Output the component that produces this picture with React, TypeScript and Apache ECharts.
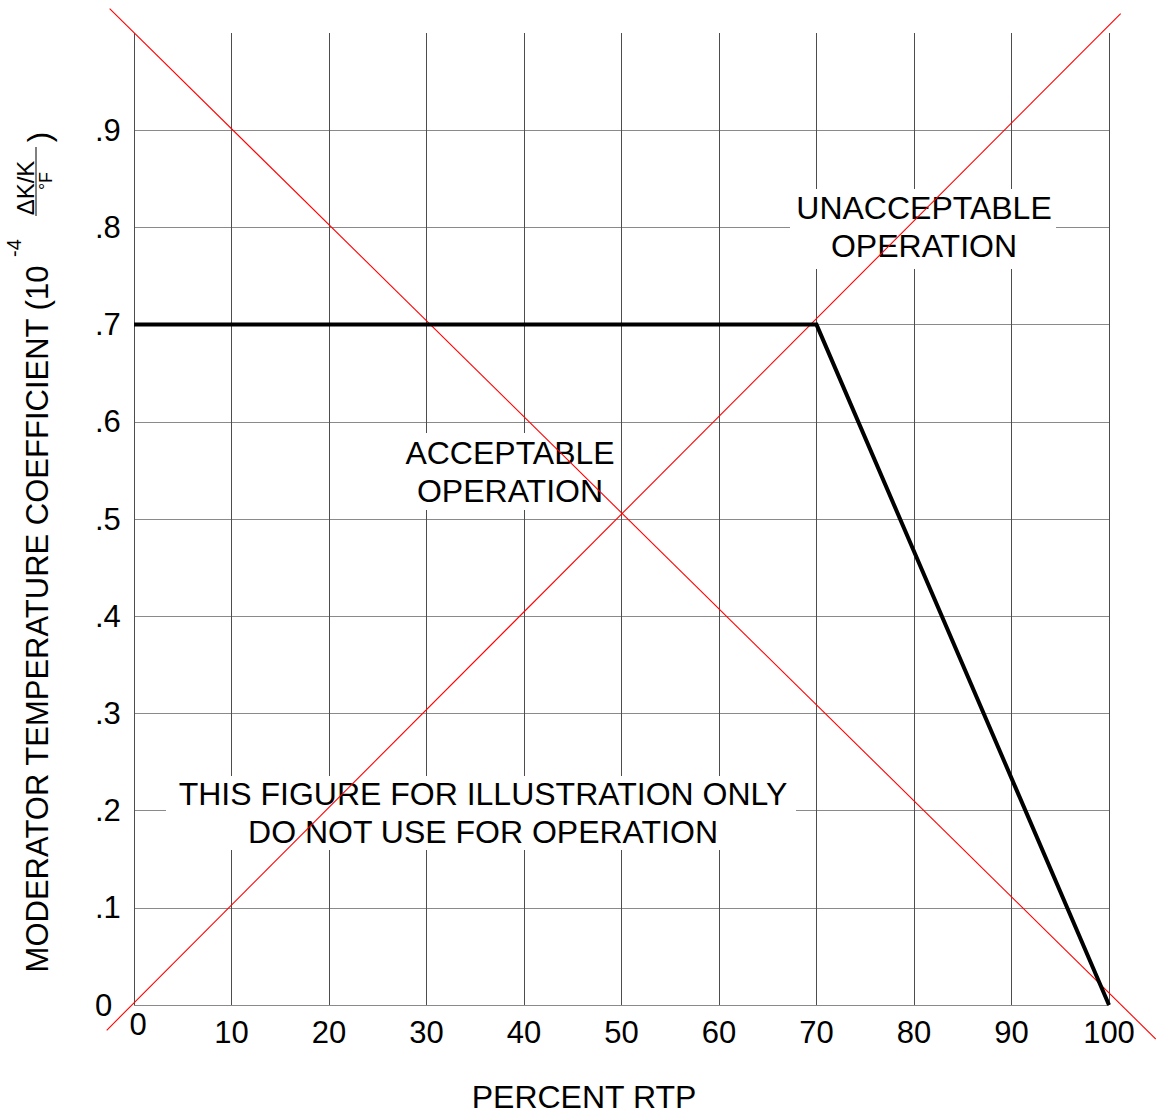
import React, { useEffect, useRef } from 'react';
import * as echarts from 'echarts';

const xTickLabels = ['0', '10', '20', '30', '40', '50', '60', '70', '80', '90', '100'];
const yTickLabels = ['0', '.1', '.2', '.3', '.4', '.5', '.6', '.7', '.8', '.9'];

// Limit curve (percent RTP vs coefficient)
const limitX = [0, 70, 100];
const limitY = [0.7, 0.7, 0];

// Red diagonal guide lines (extend beyond plot)
const redFallX = [-2.5, 104.8];
const redFallY = [1.025, -0.035];
const redRiseX = [-2.8, 101.2];
const redRiseY = [-0.026, 1.02];

const FONT = '"Liberation Sans", Arial, Helvetica, sans-serif';

export default function App() {
  const ref = useRef<HTMLDivElement>(null);
  useEffect(() => {
    const chart = echarts.init(ref.current!, null, { renderer: 'svg' });
    const zip = (xs: number[], ys: number[]) => xs.map((x, i) => [x, ys[i]]);
    const txt = (text: string, x: number, y: number, size: number, extra: any = {}) => ({
      type: 'text',
      x,
      y,
      z: 5,
      silent: true,
      ...extra,
      style: {
        text,
        fill: '#000',
        fontSize: size,
        fontFamily: FONT,
        align: 'center',
        verticalAlign: 'middle',
        ...(extra.style || {}),
      },
    });
    const box = (x: number, y: number, w: number, h: number) => ({
      type: 'rect',
      z: 1,
      silent: true,
      shape: { x, y, width: w, height: h },
      style: { fill: '#ffffff' },
    });
    chart.setOption({
      animation: false,
      backgroundColor: '#ffffff',
      grid: { left: 134, right: 47, top: 33, bottom: 111 },
      xAxis: {
        type: 'value',
        min: 0,
        max: 100,
        interval: 10,
        axisLine: { show: false },
        axisTick: { show: false },
        splitLine: { show: true, lineStyle: { color: '#4d4d4d', width: 1 } },
        axisLabel: {
          margin: 27,
          verticalAlign: 'middle',
          fontSize: 31,
          color: '#000',
          fontFamily: FONT,
          formatter: (v: number) => {
            const i = Math.round(v / 10);
            return i === 0 ? '{z|' + xTickLabels[0] + '}' : xTickLabels[i];
          },
          rich: {
            z: { fontSize: 31, fontFamily: FONT, color: '#000', padding: [0, 0, 16, 8] },
          },
        },
      },
      yAxis: {
        type: 'value',
        min: 0,
        max: 1,
        interval: 0.1,
        axisLine: { show: false },
        axisTick: { show: false },
        splitLine: { show: true, showMaxLine: false, lineStyle: { color: '#8a8a8a', width: 1 } },
        axisLabel: {
          showMaxLabel: false,
          align: 'left',
          margin: 39,
          fontSize: 31,
          color: '#000',
          fontFamily: FONT,
          formatter: (v: number) => yTickLabels[Math.round(v * 10)] ?? '',
        },
      },
      series: [
        {
          type: 'line',
          data: zip(limitX, limitY),
          symbol: 'none',
          silent: true,
          z: 7,
          lineStyle: { color: '#000000', width: 4, join: 'miter' },
        },
      ],
    });
    const toPx = (xs: number[], ys: number[]) =>
      xs.map((x, i) => chart.convertToPixel({ gridIndex: 0 }, [x, ys[i]]) as number[]);
    const redLine = (xs: number[], ys: number[]) => ({
      type: 'polyline',
      z: 6,
      silent: true,
      shape: { points: toPx(xs, ys) },
      style: { stroke: '#ff0000', lineWidth: 1.1, fill: null },
    });
    chart.setOption({
      graphic: [
        box(790, 189, 266, 80),
        box(400, 433, 219, 77),
        box(166, 776, 630, 74),
        txt('UNACCEPTABLE\nOPERATION', 924, 227, 32, { style: { lineHeight: 38 } }),
        txt('ACCEPTABLE\nOPERATION', 510, 472, 32, { style: { lineHeight: 38 } }),
        txt('THIS FIGURE FOR ILLUSTRATION ONLY\nDO NOT USE FOR OPERATION', 483, 812.5, 32, {
          style: { lineHeight: 38 },
        }),
        txt('PERCENT RTP', 584, 1096.5, 32),
        txt('MODERATOR TEMPERATURE COEFFICIENT (10', 37, 619, 31, { rotation: Math.PI / 2 }),
        txt('-4', 14, 248, 20, { rotation: Math.PI / 2 }),
        txt('ΔK/K', 25, 188, 24, { rotation: Math.PI / 2 }),
        txt('°F', 46, 181, 18, { rotation: Math.PI / 2 }),
        {
          type: 'line',
          z: 5,
          silent: true,
          shape: { x1: 36, y1: 147, x2: 36, y2: 216 },
          style: { stroke: '#000', lineWidth: 1 },
        },
        txt(')', 39, 137, 31, { rotation: Math.PI / 2 }),
        redLine(redFallX, redFallY),
        redLine(redRiseX, redRiseY),
      ],
    });
    return () => chart.dispose();
  }, []);
  return (
    <div
      ref={ref}
      style={{ position: 'absolute', left: 0, top: 0, width: 1156, height: 1116, background: '#fff' }}
    />
  );
}
